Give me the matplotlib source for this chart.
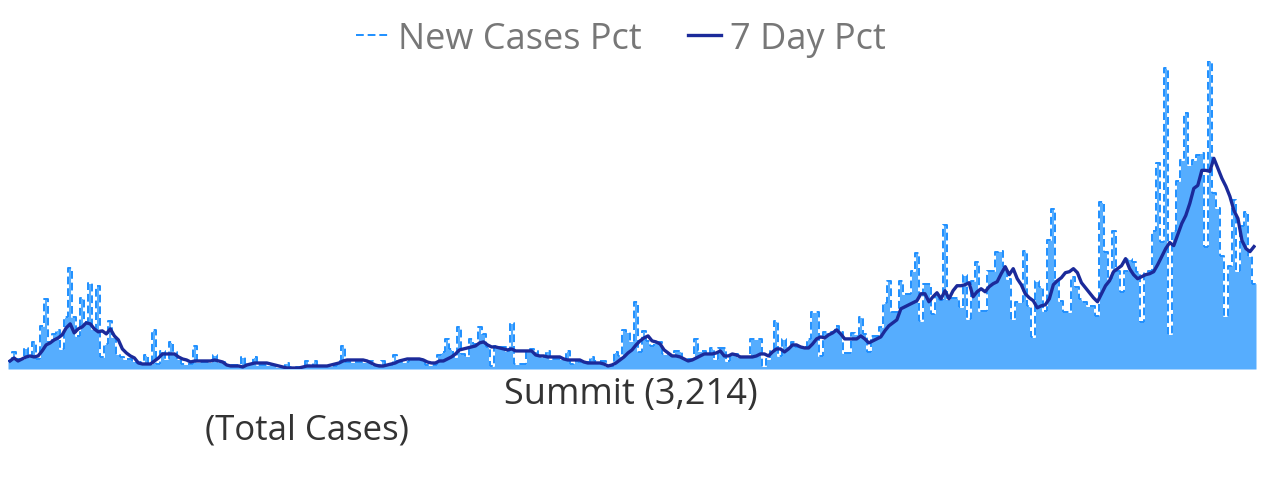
import numpy as np
import matplotlib
matplotlib.use("Agg")
import matplotlib.pyplot as plt

# daily new cases pct (arbitrary units)
new_pct = [
    8, 17, 10, 10, 21, 12, 27, 10, 43, 70, 27, 35, 39, 20, 52, 101, 52, 33, 71, 47,
    86, 40, 83, 12, 25, 48, 32, 15, 12, 10, 10, 8, 6, 7, 14, 5, 39, 5, 18, 10,
    27, 17, 10,
    5, 5, 5, 23, 7, 7, 7, 7, 14, 7, 7, 4, 4, 4, 4, 12, 5, 5, 12, 4,
    4, 4, 4, 4, 2, 2, 6, 2, 2, 2, 2, 8, 3, 8, 3, 3, 3, 3, 3, 8,
    23, 7, 7, 7, 7, 7, 7, 8, 4, 4, 8, 4, 4, 14, 7, 7, 7, 10, 10, 10,
    10, 4, 4, 4, 14,
    17, 30, 20, 12, 42, 15, 13, 30, 25, 42, 35, 22, 3, 23, 22, 22, 18, 46, 5, 5,
    5, 18, 20, 18, 13, 12, 18, 10, 10, 10, 10, 18, 5, 8, 7, 7, 7, 12, 8, 8,
    8, 3, 3, 17, 13, 39, 37, 28, 67, 17, 38, 28, 23, 27, 27, 15, 15, 13, 18, 18,
    10, 10, 10, 30, 18, 18, 15, 21, 10, 21, 21, 8, 15, 15, 12, 12, 12, 30, 30, 30,
    3, 10, 18, 48, 13, 30, 23, 27, 22, 22, 22, 30, 57, 57, 13, 37, 37, 37, 43, 37,
    16, 16, 36, 35, 52, 35, 17, 33, 33, 42, 66, 88, 57, 57, 88, 75, 75, 98, 116, 48,
    85, 85, 55, 75, 69, 144, 70, 71, 71, 62, 94, 50, 88, 107, 58, 58, 98, 98, 117, 118,
    102, 90, 50, 67, 67, 118, 63, 32, 88, 82, 58, 129, 159, 90, 68, 57, 57, 92, 82, 70,
    67, 63, 63, 53, 166,
    117, 90, 138, 98, 77, 98, 110, 107, 97, 47, 97, 98, 138, 205, 127, 300, 35, 138, 187, 208,
    255, 203, 208, 213, 215, 122, 307, 175, 160, 113, 53, 103, 168, 98, 143, 156, 113, 85,
]

# 7 day pct line
avg7_pct = [
    8, 11, 8, 10, 12, 13, 12, 13, 18, 24, 26, 29, 31, 34, 41, 45, 36, 40, 42, 46,
    45, 40, 37, 38, 35, 40, 33, 29, 20, 16, 13, 11, 6, 5, 5, 5, 8, 11, 15, 15,
    15, 15, 12,
    10, 9, 7, 8, 8, 8, 8, 8, 9, 8, 7, 4, 3, 3, 3, 2, 4, 5, 6, 6,
    6, 6, 5, 4, 3, 2, 1, 1, 1, 1, 2, 3, 3, 3, 3, 3, 3, 4, 5, 6,
    8, 9, 9, 9, 9, 9, 8, 6, 4, 3, 3, 4, 5, 6, 8, 9, 10, 10, 10, 10,
    9, 7, 6, 6, 8,
    8, 10, 12, 15, 19, 20, 21, 22, 23, 26, 27, 24, 22, 22, 21, 20, 19, 20, 18, 18,
    18, 18, 18, 14, 13, 13, 12, 12, 12, 12, 10, 9, 9, 9, 9, 7, 6, 6, 6, 6,
    5, 3, 4, 6, 9, 12, 16, 19, 24, 28, 31, 33, 28, 27, 25, 19, 16, 13, 13, 12,
    10, 8, 9, 11, 13, 15, 15, 15, 16, 18, 13, 13, 15, 14, 12, 12, 12, 12, 13, 15,
    15, 13, 17, 20, 20, 17, 20, 24, 24, 22, 21, 21, 25, 30, 32, 31, 34, 36, 39, 35,
    30, 30, 30, 30, 33, 30, 26, 28, 30, 32, 38, 43, 46, 49, 60, 62, 64, 66, 68, 75,
    75, 67, 72, 76, 70, 78, 70, 78, 83, 83, 84, 86, 72, 77, 80, 77, 82, 85, 87, 95,
    102, 94, 100, 90, 84, 75, 71, 68, 61, 63, 64, 70, 84, 88, 91, 96, 97, 100, 96, 86,
    81, 76, 71, 67, 75,
    83, 88, 97, 100, 103, 110, 100, 94, 90, 92, 94, 95, 97, 104, 112, 120, 126, 123, 134, 145,
    153, 165, 180, 183, 198, 198, 197, 210, 200, 190, 182, 172, 158, 150, 128, 120, 117, 122,
]

county = "Summit (3,214)"
sub_label = "(Total Cases)"

n = len(new_pct)
days = np.arange(n + 1)
bars = np.append(new_pct, new_pct[-1])

fig = plt.figure(figsize=(12.8, 4.85), dpi=100)
ax = fig.add_axes([8 / 1280, 1 - 370 / 485, 1248 / 1280, 308 / 485])

fill_col = "#56ADFE"
dash_col = "#1E8FFF"
line_col = "#1B2A9A"

ax.fill_between(days, bars, step="post", color=fill_col, lw=0)
ax.step(days, bars, where="post", color="white", lw=1.4)
ax.step(days, bars, where="post", color=dash_col, lw=1.4, ls=(0, (4, 2)),
        label="New Cases Pct")
ax.plot(np.arange(n) + 0.5, avg7_pct, color=line_col, lw=2.4, label="7 Day Pct")

ax.set_xlim(0, n)
ax.set_ylim(0, max(new_pct))
ax.axis("off")

font = "Open Sans"
leg = fig.legend(loc="center", bbox_to_anchor=(621 / 1280, 1 - 40 / 485), ncol=2,
                 frameon=False, handlelength=0.9, handletextpad=0.25,
                 columnspacing=1.3, prop={"family": font, "size": 26})
for t in leg.get_texts():
    t.set_color("#777777")

fig.text(631 / 1280, 1 - 395 / 485, county, ha="center", va="center",
         fontsize=26, color="#333333", family=font)
fig.text(307 / 1280, 1 - 431 / 485, sub_label, ha="center", va="center",
         fontsize=25, color="#333333", family=font)

fig.savefig("out.png", dpi=100)
